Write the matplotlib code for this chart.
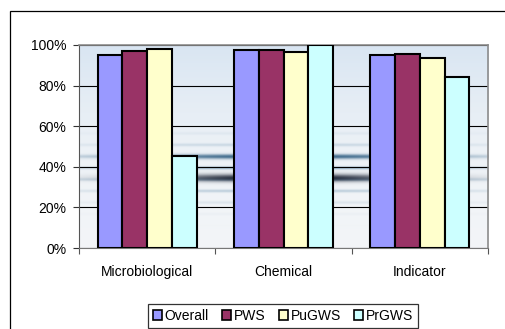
import numpy as np
import matplotlib.pyplot as plt
from matplotlib.patches import Rectangle
from matplotlib.ticker import PercentFormatter, FixedLocator, NullFormatter

plt.rcParams['font.family'] = ['Liberation Sans', 'DejaVu Sans']
plt.rcParams['font.size'] = 10

categories = ['Microbiological', 'Chemical', 'Indicator']
series = ['Overall', 'PWS', 'PuGWS', 'PrGWS']
overall = [95, 97.5, 95]
pws = [97, 97.5, 95.7]
pugws = [97.8, 96.7, 93.4]
prgws = [45.3, 100, 84.2]
colors = ['#9999FF', '#993366', '#FFFFCC', '#CCFFFF']

fig = plt.figure(figsize=(5.05, 3.29), dpi=100)
fig.patch.set_facecolor('white')

# outer chart-area border (runs off the right/bottom edge)
fig.add_artist(Rectangle((10 / 505, -0.2), 1.2, (329 - 11) / 329 + 0.2,
                         transform=fig.transFigure, fill=False,
                         edgecolor='black', linewidth=0.9))

ax = fig.add_axes([79 / 505, 81 / 329, 409 / 505, 203 / 329])

# water-ripple style background picture (decoration only)
h, w = 300, 400
yy, xx = np.mgrid[0:1:h * 1j, 0:1:w * 1j]
top = np.array([0.85, 0.90, 0.95])
mid = np.array([0.95, 0.96, 0.97])
t = np.clip(yy, 0, 1)[..., None]
img = mid + (top - mid) * t ** 2
env = np.exp(-((xx - 0.5) / 0.5) ** 2)
rip = np.exp(-((yy - 0.38) / 0.13) ** 2) * (0.5 + 0.5 * np.sin((yy - 0.38) * 110)) ** 6 * env
blueband = np.exp(-((yy - 0.45) / 0.012) ** 2) * np.exp(-((xx - 0.5) / 0.35) ** 2)
dark = np.exp(-((yy - 0.345) / 0.018) ** 2) * np.exp(-((xx - 0.5) / 0.3) ** 2)
blue = np.array([0.25, 0.45, 0.6])
img = img * (1 - 0.55 * rip[..., None]) + blue * 0.55 * rip[..., None]
img = img * (1 - 0.8 * blueband[..., None]) + np.array([0.1, 0.3, 0.45]) * 0.8 * blueband[..., None]
img = img * (1 - dark[..., None]) + np.array([0.05, 0.08, 0.15]) * dark[..., None]
ax.imshow(np.clip(img, 0, 1), extent=[-0.5, 2.5, 0, 100], origin='lower',
          aspect='auto', zorder=0)

x = np.arange(len(categories))
bw = 0.182
for i, (vals, c) in enumerate(zip([overall, pws, pugws, prgws], colors)):
    ax.bar(x + (i - 1.5) * bw, vals, bw, color=c, edgecolor='black',
           linewidth=1.5, label=series[i], zorder=3)

ax.set_xlim(-0.5, 2.5)
ax.set_ylim(0, 100)
ax.set_yticks(range(0, 101, 20))
ax.yaxis.set_major_formatter(PercentFormatter(decimals=0))
ax.yaxis.grid(True, color='black', linewidth=0.8, zorder=1)
ax.set_axisbelow(True)

ax.xaxis.set_major_locator(FixedLocator([-0.5, 0.5, 1.5, 2.5]))
ax.xaxis.set_major_formatter(NullFormatter())
ax.xaxis.set_minor_locator(FixedLocator(x))
ax.set_xticklabels(categories, minor=True)
ax.tick_params(axis='x', which='minor', length=0, pad=12)
ax.tick_params(axis='x', which='major', length=4, color='#555555')
ax.tick_params(axis='y', length=4, pad=5, color='#333333')

for side in ['top', 'right']:
    ax.spines[side].set_color('#8c8c8c')
    ax.spines[side].set_linewidth(1.2)
ax.spines['left'].set_color('#555555')
ax.spines['bottom'].set_color('#777777')

leg = fig.legend(loc='lower center', bbox_to_anchor=(283 / 505, 0.0), ncol=4,
                 frameon=True, fancybox=False, handlelength=0.65,
                 handleheight=0.65, handletextpad=0.2, columnspacing=0.95,
                 borderpad=0.35, borderaxespad=0.1)
leg.get_frame().set_edgecolor('black')
leg.get_frame().set_linewidth(0.9)
for p in leg.get_patches():
    p.set_linewidth(1.2)

fig.savefig('out.png', dpi=100)
